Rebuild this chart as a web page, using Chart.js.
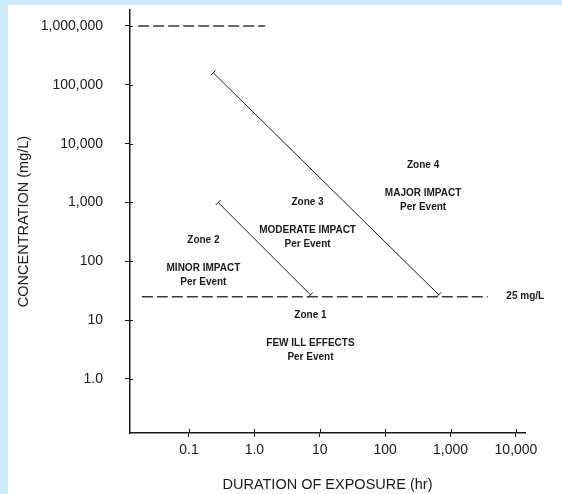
<!DOCTYPE html>
<html>
<head>
<meta charset="utf-8">
<script src="https://cdn.jsdelivr.net/npm/chart.js@4.4.1/dist/chart.umd.min.js"></script>
<style>
  html, body { margin: 0; padding: 0; width: 562px; height: 494px; overflow: hidden; background: #cde9fc; }
  #wrap { position: absolute; left: 8px; top: 5px; width: 554px; height: 489px; background: #fff; }
</style>
</head>
<body>
<div id="wrap"><canvas id="chart" width="554" height="489"></canvas></div>
<script>
// axis ticks
const xTicks = [0.1, 1, 10, 100, 1000, 10000];
const xTickLabels = ['0.1', '1.0', '10', '100', '1,000', '10,000'];
const yTicks = [1, 10, 100, 1000, 10000, 100000, 1000000];
const yTickLabels = ['1.0', '10', '100', '1,000', '10,000', '100,000', '1,000,000'];

// boundary lines: duration (hr) and concentration (mg/L)
const minorLimitX = [0.28, 7.2];
const minorLimitY = [1000, 27];
const majorLimitX = [0.235, 660];
const majorLimitY = [160000, 27];
const thresholdX = [0.019, 3700];
const thresholdY = [25, 25];
const topDashX = [0.0167, 1.47];
const topDashY = [1000000, 1000000];

// zone labels
const zoneNames = ['Zone 1', 'Zone 2', 'Zone 3', 'Zone 4'];
const zoneImpacts = ['FEW ILL EFFECTS', 'MINOR IMPACT', 'MODERATE IMPACT', 'MAJOR IMPACT'];
const zoneX = [7.2, 0.166, 6.5, 380];
const zoneY = [12, 230, 1000, 4300];

const pts = (xs, ys) => xs.map((x, i) => ({ x: x, y: ys[i] }));

const ink = '#1a1a1a';
const font = 'Liberation Sans, Arial, Helvetica, sans-serif';

const dashed = (xs, ys) => ({
  data: pts(xs, ys),
  borderColor: '#3a3a3a',
  borderWidth: 1.3,
  borderDash: [11, 4],
  pointRadius: 0,
  showLine: true
});
const limit = (xs, ys) => ({
  data: pts(xs, ys),
  borderColor: ink,
  borderWidth: 1,
  pointStyle: 'line',
  pointRadius: 3.5,
  pointRotation: -45,
  pointBorderColor: ink,
  pointBorderWidth: 1,
  showLine: true
});

const labelsPlugin = {
  id: 'zoneLabels',
  afterDatasetsDraw(chart) {
    const { ctx, scales: { x, y } } = chart;
    ctx.save();
    ctx.fillStyle = ink;
    ctx.textAlign = 'center';
    ctx.textBaseline = 'middle';
    ctx.font = 'bold 10px ' + font;
    zoneNames.forEach((name, i) => {
      const px = x.getPixelForValue(zoneX[i]);
      const py = y.getPixelForValue(zoneY[i]);
      ctx.fillText(name, px, py);
      ctx.fillText(zoneImpacts[i], px, py + 28);
      ctx.fillText('Per Event', px, py + 42);
    });
    ctx.textAlign = 'left';
    ctx.fillText('25 mg/L', x.getPixelForValue(7130), y.getPixelForValue(25));

    // short inner half of the cross ticks
    ctx.strokeStyle = ink;
    ctx.lineWidth = 1;
    ctx.beginPath();
    yTicks.forEach(v => {
      const py = Math.round(y.getPixelForValue(v)) + 0.5;
      ctx.moveTo(x.left, py); ctx.lineTo(x.left + 3, py);
    });
    xTicks.forEach(v => {
      const px = Math.round(x.getPixelForValue(v)) + 0.5;
      ctx.moveTo(px, y.bottom); ctx.lineTo(px, y.bottom - 4);
    });
    ctx.stroke();
    ctx.restore();
  }
};

new Chart(document.getElementById('chart'), {
  type: 'scatter',
  data: {
    datasets: [
      dashed(topDashX, topDashY),
      dashed(thresholdX, thresholdY),
      limit(majorLimitX, majorLimitY),
      limit(minorLimitX, minorLimitY)
    ]
  },
  options: {
    responsive: false,
    animation: false,
    layout: { padding: { top: 5, right: 37, left: 0, bottom: 0 } },
    plugins: { legend: { display: false }, tooltip: { enabled: false } },
    scales: {
      x: {
        type: 'logarithmic',
        min: 0.01253,
        max: 13740,
        bounds: 'data',
        afterBuildTicks: s => { s.ticks = xTicks.map(v => ({ value: v })); },
        afterFit: s => { s.height = 61; s.paddingLeft = 0; },
        ticks: {
          color: ink,
          font: { family: font, size: 14 },
          padding: 4.5,
          maxRotation: 0,
          callback: (v, i) => xTickLabels[i]
        },
        grid: { drawOnChartArea: false, drawTicks: true, tickLength: 4, color: ink },
        border: { display: true, color: ink, width: 1.5 },
        title: {
          display: true,
          text: 'DURATION OF EXPOSURE (hr)',
          color: ink,
          font: { family: font, size: 14.5 },
          padding: { top: 0, bottom: 0 }
        }
      },
      y: {
        type: 'logarithmic',
        min: 0.1208,
        max: 1870000,
        bounds: 'data',
        afterBuildTicks: s => { s.ticks = yTicks.map(v => ({ value: v })); },
        afterFit: s => { s.width = 122; s.paddingTop = 0; s.paddingBottom = 0; },
        ticks: {
          color: ink,
          font: { family: font, size: 14 },
          padding: 22,
          callback: (v, i) => yTickLabels[i]
        },
        grid: { drawOnChartArea: false, drawTicks: true, tickLength: 5, color: ink },
        border: { display: true, color: ink, width: 1.5 },
        title: {
          display: true,
          text: 'CONCENTRATION (mg/L)',
          color: ink,
          font: { family: font, size: 14.5 },
          padding: { top: 7, bottom: 0 }
        }
      }
    }
  },
  plugins: [labelsPlugin]
});
</script>
</body>
</html>
